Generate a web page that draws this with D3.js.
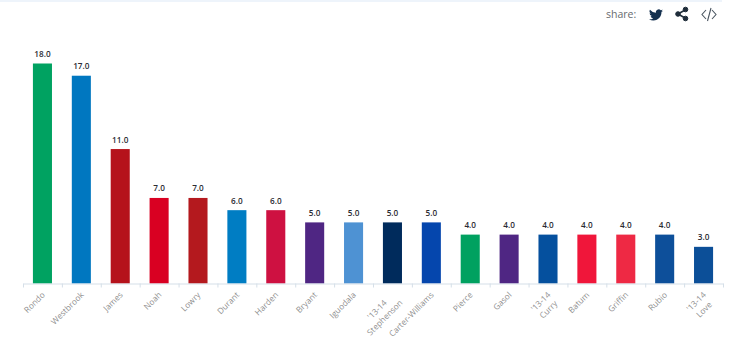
<!DOCTYPE html>
<html>
<head>
<meta charset="utf-8">
<script src="https://cdnjs.cloudflare.com/ajax/libs/d3/7.8.5/d3.min.js"></script>
<style>
    html, body { margin: 0; padding: 0; background: #fff; }
    svg { display: block; font-family: "Open Sans", sans-serif; }
</style>
</head>
<body>
<div id="chart"></div>
<script>
let players = ["Rondo", "Westbrook", "James", "Noah", "Lowry", "Durant", "Harden", "Bryant", "Iguodala",
    "'13-14|Stephenson", "Carter-Williams", "Pierce", "Gasol", "'13-14|Curry", "Batum", "Griffin", "Rubio", "'13-14|Love"];
let values = [18, 17, 11, 7, 7, 6, 6, 5, 5, 5, 5, 4, 4, 4, 4, 4, 4, 3];
let colors = ["#00a261", "#0077c0", "#b5121b", "#d90022", "#b4191e", "#007dc3", "#ce1141", "#4f2683", "#4e92d3",
    "#002b5c", "#0546ad", "#00a160", "#4f2683", "#05509e", "#f0163a", "#ee2944", "#0d4f9a", "#0c4f98"];

function main(){

    let width = 740;
    let height = 354;
    let baseline = 283.5;

    let svg = d3.select("#chart")
                .append("svg")
                .attr("width", width)
                .attr("height", height);

    // pale strip along the top of the page
    svg.append("rect")
        .attr("width", 722)
        .attr("height", 2)
        .attr("fill", "#eef4fb");

    let xScale = d3.scaleBand()
                    .domain(d3.range(players.length))
                    .range([23, 723])
                    .paddingInner(0.51)
                    .paddingOuter(0.255);

    let yScale = d3.scaleLinear()
                    .domain([0, 18])
                    .range([baseline, 63.5]);

    svg.append("g")
        .selectAll("rect")
        .data(values)
        .enter()
        .append("rect")
        .attr("x", (d, i) => xScale(i))
        .attr("y", d => yScale(d))
        .attr("width", xScale.bandwidth())
        .attr("height", d => baseline - yScale(d))
        .attr("fill", (d, i) => colors[i]);

    svg.append("g")
        .selectAll("text")
        .data(values)
        .enter()
        .append("text")
        .attr("x", (d, i) => xScale(i) + xScale.bandwidth() / 2)
        .attr("y", d => yScale(d) - 6.5)
        .attr("text-anchor", "middle")
        .attr("font-size", 8.2)
        .attr("font-weight", 600)
        .attr("fill", "#2b2b33")
        .text(d => d.toFixed(1));

    // axis line and the ticks sit between the bars
    let tickScale = d3.scaleLinear().domain([0, players.length]).range([23, 723]);
    let axis = d3.axisBottom(tickScale)
                    .tickValues(d3.range(players.length + 1))
                    .tickSize(4)
                    .tickSizeOuter(0)
                    .tickFormat("");
    let axisG = svg.append("g")
                    .attr("transform", `translate(0,${baseline})`)
                    .call(axis);
    axisG.selectAll("path, line").attr("stroke", "#d5dfe8");

    let labels = svg.append("g")
                    .selectAll("text")
                    .data(players)
                    .enter()
                    .append("text")
                    .attr("transform", (d, i) => `translate(${xScale(i) + xScale.bandwidth() / 2 + 3},${baseline + 12}) rotate(-45)`)
                    .attr("text-anchor", "middle")
                    .attr("font-size", 8.3)
                    .attr("fill", "#8f8f8f");

    // two line labels are centred on each other, the longest line ends at the tick
    labels.each(function(d){
        let parts = d.split("|");
        let el = d3.select(this);
        let spans = parts.map((p, j) => el.append("tspan").attr("y", j * 11).text(p));
        let longest = d3.max(spans, s => s.node().getComputedTextLength());
        spans.forEach(s => s.attr("x", -longest / 2));
    });

    // share bar
    svg.append("text")
        .attr("x", 606)
        .attr("y", 18)
        .attr("font-size", 10.5)
        .attr("fill", "#666a6e")
        .text("share:");

    svg.append("path")
        .attr("transform", "translate(649,8) scale(0.58)")
        .attr("d", "M24 4.6a9.8 9.8 0 0 1-2.8.8 4.9 4.9 0 0 0 2.2-2.7 9.8 9.8 0 0 1-3.1 1.2 4.9 4.9 0 0 0-8.4 4.5A14 14 0 0 1 1.7 3.2a4.9 4.9 0 0 0 1.5 6.6 4.9 4.9 0 0 1-2.2-.6 4.9 4.9 0 0 0 3.9 4.8 4.9 4.9 0 0 1-2.2.1 4.9 4.9 0 0 0 4.6 3.4A9.9 9.9 0 0 1 0 19.5 14 14 0 0 0 7.5 21.7c9.1 0 14.3-7.7 14-14.6A10 10 0 0 0 24 4.6z")
        .attr("fill", "#14304f");

    let share = svg.append("g").attr("fill", "#1f2d3a").attr("stroke", "#1f2d3a");
    share.append("path").attr("d", "M685 10 L678 14 L685 18").attr("fill", "none").attr("stroke-width", 1.6);
    share.append("circle").attr("cx", 678).attr("cy", 14).attr("r", 2.3);
    share.append("circle").attr("cx", 685.5).attr("cy", 9.5).attr("r", 2.3);
    share.append("circle").attr("cx", 685.5).attr("cy", 18.5).attr("r", 2.3);

    svg.append("path")
        .attr("d", "M706 10 L702 14.5 L706 19 M711 8 L707.5 21 M712 10 L716 14.5 L712 19")
        .attr("fill", "none")
        .attr("stroke", "#4a5560")
        .attr("stroke-width", 1.1);
}

main();
</script>
</body>
</html>
